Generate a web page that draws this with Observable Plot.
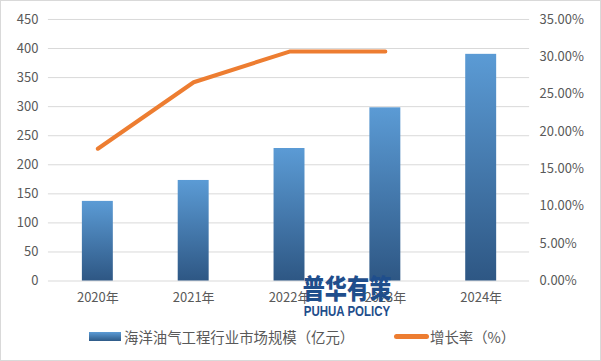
<!DOCTYPE html>
<html><head><meta charset="utf-8">
<script src="https://cdn.jsdelivr.net/npm/d3@7"></script>
<script src="https://cdn.jsdelivr.net/npm/@observablehq/plot@0.6"></script>
<style>
body{margin:0;background:#fff;}
#wrap{position:relative;width:599px;height:359px;border:1px solid #d9d9d9;overflow:hidden;font-family:"Noto Sans CJK SC","Microsoft YaHei",sans-serif;}
#chart{position:absolute;left:-1px;top:-1px;}
#legend{position:absolute;left:0;top:324px;width:599px;font-size:14.4px;color:#595959;}
.li{position:absolute;top:0;height:22px;display:flex;align-items:center;white-space:nowrap;}
#wm{position:absolute;left:286px;top:273px;width:120px;color:#1f4e8c;text-align:center;line-height:1;white-space:nowrap;}
#wm div{white-space:nowrap;}
</style></head><body>
<div id="wrap"><div id="chart"></div>
<div id="legend">
 <div class="li" style="left:88px"><span style="display:inline-block;width:32px;height:9px;background:linear-gradient(#5b9bd5,#2e5a87);margin-right:3px"></span>海洋油气工程行业市场规模（亿元）</div>
 <div class="li" style="left:393px"><span style="display:inline-block;width:35px;height:5px;background:#ed7d31;border-radius:2.5px;margin-right:1px"></span>增长率（%）</div>
</div>
<div id="wm"><div style="font-size:27px;font-weight:900;transform:scaleX(0.82)">普华有策</div><div style="font-size:14px;font-weight:bold;font-family:'Liberation Sans',sans-serif;margin-top:3px;transform:scaleX(0.82)">PUHUA POLICY</div></div>
</div>
<script>
const years = ["2020年","2021年","2022年","2023年","2024年"];
const marketSize = [137, 173, 228, 298, 390];
const growthRate = [0.177, 0.266, 0.307, 0.307, null];
const leftTicks = [0,50,100,150,200,250,300,350,400,450];
const rightTicks = [0,0.05,0.10,0.15,0.20,0.25,0.30,0.35];

const yMax = 450, rMax = 0.35;
const toY = r => r * yMax / rMax;
const bars = years.map((y,i)=>({year:y, value:marketSize[i]}));
const rates = years.map((y,i)=>({year:y, rate:growthRate[i]})).filter(d=>d.rate!=null);

const plot = Plot.plot({
  width: 601, height: 310,
  marginLeft: 48, marginRight: 71, marginTop: 19, marginBottom: 29,
  style: {fontFamily:"'Noto Sans CJK SC',sans-serif", fontSize:"13px", color:"#595959", background:"transparent"},
  x: {domain: years, paddingInner: 0.68, paddingOuter: 0.34, label: null},
  y: {domain: [0, yMax], label: null},
  marks: [
    Plot.ruleY(leftTicks, {stroke:"#d9d9d9", strokeWidth:1}),
    Plot.axisY(leftTicks, {anchor:"left", tickSize:0, tickPadding:10, label:null, fill:"#595959", fontSize:13}),
    Plot.axisY(rightTicks.map(toY), {anchor:"right", tickSize:0, tickPadding:10, label:null, fill:"#595959", fontSize:13,
      tickFormat: d => (d*rMax/yMax*100).toFixed(2)+"%"}),
    Plot.axisX({tickSize:0, tickPadding:12, label:null, fill:"#595959", fontSize:13}),
    Plot.barY(bars, {x:"year", y:"value", fill:"url(#barGrad)"}),
    Plot.line(rates, {x:"year", y:d=>toY(d.rate), stroke:"#ed7d31", strokeWidth:4, strokeLinecap:"round", strokeLinejoin:"round"})
  ]
});
const svg = d3.select(plot);
const defs = svg.insert("defs", ":first-child");
const g = defs.append("linearGradient").attr("id","barGrad").attr("x1",0).attr("y1",0).attr("x2",0).attr("y2",1);
g.append("stop").attr("offset","0%").attr("stop-color","#5b9bd5");
g.append("stop").attr("offset","100%").attr("stop-color","#2e5784");
document.getElementById("chart").appendChild(plot);
</script>
</body></html>
